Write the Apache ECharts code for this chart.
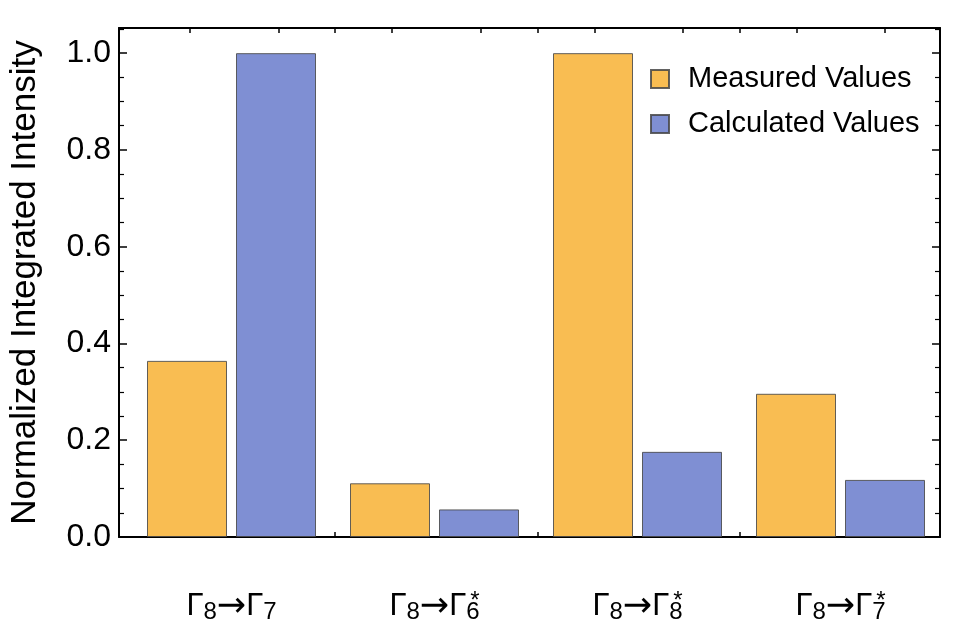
<!DOCTYPE html>
<html>
<head>
<meta charset="utf-8">
<script src="https://cdn.jsdelivr.net/npm/echarts@6/dist/echarts.min.js"></script>
<style>
  html, body { margin: 0; padding: 0; background: #fff; }
  #chart { width: 959px; height: 634px; }
</style>
</head>
<body>
<div id="chart"></div>
<script>
// data
const transitions = [
  'Γ{s|8}{a|→}Γ{s|7}',
  'Γ{s|8}{a|→}Γ{s|6}{st|*}',
  'Γ{s|8}{a|→}Γ{s|8}{st|*}',
  'Γ{s|8}{a|→}Γ{s|7}{st|*}'
]
const measuredValues = [0.364, 0.111, 1.0, 0.296]
const calculatedValues = [1.0, 0.057, 0.176, 0.118]
const yMax = 1.052

// layout (px)
const frameLeft = 116, frameRight = 940
const barLeft = 130, barRight = 942
const plotTop = 28, plotBottom = 537
const W = 959, H = 634
const barW = 80, barGapPx = 9
const band = (barRight - barLeft) / transitions.length

// tick positions on the frame axis (in category units)
const off = (barW + barGapPx) / 2 / band
const frameTicks = []
for (let i = 0; i < transitions.length; i++) {
  frameTicks.push(i + 0.5 - off, i + 0.5 + off)
  if (i > 0) frameTicks.push(i)
}

const font = 'Liberation Sans'
const chart = echarts.init(document.getElementById('chart'))

const frameX = (pos) => ({
  type: 'value',
  gridIndex: 0,
  position: pos,
  min: (frameLeft - barLeft) / band,
  max: (frameRight - barLeft) / band,
  axisLine: { show: true, onZero: false, lineStyle: { color: '#000', width: 2 } },
  axisTick: { show: true, inside: true, length: 5, customValues: frameTicks, lineStyle: { color: '#000', width: 1.5 } },
  axisLabel: { show: false },
  splitLine: { show: false }
})
const frameY = (pos, labels) => ({
  type: 'value',
  gridIndex: 0,
  position: pos,
  min: 0,
  max: yMax,
  interval: 0.2,
  axisLine: { show: true, onZero: false, lineStyle: { color: '#000', width: 2 } },
  axisTick: { show: true, inside: true, length: 8, lineStyle: { color: '#000', width: 1.5 } },
  minorTick: { show: true, splitNumber: 4, length: 5, lineStyle: { color: '#000', width: 1.2 } },
  axisLabel: {
    show: labels, color: '#000', fontFamily: font, fontSize: 32, margin: 8,
    showMaxLabel: false,
    formatter: (v) => v.toFixed(1)
  },
  splitLine: { show: false },
  name: labels ? 'Normalized Integrated Intensity' : '',
  nameLocation: 'middle',
  nameGap: 76,
  nameTextStyle: { color: '#000', fontFamily: font, fontSize: 35 }
})

chart.setOption({
  animation: false,
  backgroundColor: '#fff',
  grid: [
    { left: frameLeft, right: W - frameRight, top: plotTop, bottom: H - plotBottom },
    { left: barLeft, right: W - barRight, top: plotTop, bottom: H - plotBottom }
  ],
  legend: {
    orient: 'vertical',
    left: 645,
    top: 59,
    itemWidth: 18,
    itemHeight: 18,
    itemGap: 15,
    icon: 'rect',
    textStyle: { color: '#000', fontFamily: font, fontSize: 29, lineHeight: 30, padding: [0, 0, 0, 14] },
    data: ['Measured Values', 'Calculated Values']
  },
  xAxis: [
    frameX('bottom'),
    frameX('top'),
    {
      type: 'category',
      gridIndex: 1,
      data: transitions,
      axisLine: { show: false },
      axisTick: { show: false },
      axisLabel: {
        interval: 0,
        color: '#000',
        fontFamily: font,
        fontSize: 31,
        margin: 52,
        rich: {
          a: { fontFamily: 'DejaVu Sans', fontSize: 35, color: '#000' },
          s: { fontFamily: font, fontSize: 24, verticalAlign: 'bottom', lineHeight: 22, color: '#000' },
          st: { fontFamily: font, fontSize: 24, verticalAlign: 'top', lineHeight: 22, width: 0, align: 'right', color: '#000' }
        }
      }
    }
  ],
  yAxis: [
    frameY('left', true),
    frameY('right', false),
    { type: 'value', gridIndex: 1, min: 0, max: yMax, show: false }
  ],
  series: [
    {
      name: 'Measured Values',
      type: 'bar',
      xAxisIndex: 2,
      yAxisIndex: 2,
      barWidth: barW,
      barGap: (barGapPx / barW * 100) + '%',
      data: measuredValues,
      itemStyle: { color: '#f9bd52', borderColor: 'rgba(70,70,70,0.85)', borderWidth: 1 }
    },
    {
      name: 'Calculated Values',
      type: 'bar',
      xAxisIndex: 2,
      yAxisIndex: 2,
      barWidth: barW,
      barGap: (barGapPx / barW * 100) + '%',
      data: calculatedValues,
      itemStyle: { color: '#7f8fd3', borderColor: 'rgba(70,70,70,0.85)', borderWidth: 1 }
    }
  ]
})
</script>
</body>
</html>
